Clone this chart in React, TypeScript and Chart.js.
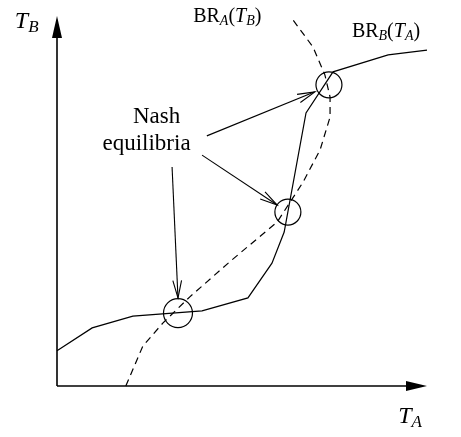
import React, { useEffect, useRef } from "react";
import { Chart, registerables } from "chart.js";

Chart.register(...registerables);

// Best response of player B to T_A (solid)
const brBX = [0, 9.5, 20.5, 39.2, 51.6, 58.1, 61.4, 67.3, 74.6, 89.5, 100];
const brBY = [9.5, 15.7, 18.9, 20.3, 23.8, 33.2, 41.6, 73.8, 84.9, 89.5, 90.8];
// Best response of player A to T_B (dashed)
const brAX = [18.6, 23.2, 28.6, 35.9, 47.3, 59.5, 66.5, 71.1, 73.8, 73.8, 72.4, 69.2, 63.8];
const brAY = [0, 10.8, 17.0, 24.1, 34.1, 44.3, 55.1, 63.8, 72.7, 78.1, 84.1, 91.6, 98.9];
// Nash equilibria (intersections)
const eqX = [32.7, 62.4, 73.5];
const eqY = [19.7, 47.0, 81.4];
// Annotation arrows from the "Nash equilibria" label to each equilibrium
const arrowFromX = [40.5, 39.2, 31.1];
const arrowFromY = [67.6, 62.4, 59.2];
const arrowToX = [69.7, 59.5, 32.7];
const arrowToY = [79.5, 48.9, 23.8];
// Axis extents
const axisMax = 100;

type Seg = { t: string; it?: boolean; sub?: boolean };

const FONT = '"Liberation Serif", "Times New Roman", serif';

function drawRich(
  ctx: CanvasRenderingContext2D,
  segs: Seg[],
  x: number,
  y: number,
  size: number,
  align: "left" | "center"
) {
  const subSize = Math.round(size * 0.72);
  const fontFor = (s: Seg) =>
    `${s.it ? "italic " : ""}${s.sub ? subSize : size}px ${FONT}`;
  const widths = segs.map((s) => {
    ctx.font = fontFor(s);
    return ctx.measureText(s.t).width;
  });
  const total = widths.reduce((a, b) => a + b, 0);
  let cx = align === "center" ? x - total / 2 : x;
  ctx.textAlign = "left";
  ctx.textBaseline = "alphabetic";
  segs.forEach((s, i) => {
    ctx.font = fontFor(s);
    ctx.fillText(s.t, cx, s.sub ? y + size * 0.17 : y);
    cx += widths[i];
  });
}

const annotationPlugin = {
  id: "annotations",
  afterDatasetsDraw(chart: any) {
    const { ctx, scales } = chart;
    const X = (v: number) => scales.x.getPixelForValue(v);
    const Y = (v: number) => scales.y.getPixelForValue(v);
    ctx.save();
    ctx.fillStyle = "#000";
    ctx.strokeStyle = "#000";

    // filled arrowheads on axes
    const filledHead = (tx: number, ty: number, ang: number, len: number, hw: number) => {
      const bx = tx - Math.cos(ang) * len;
      const by = ty - Math.sin(ang) * len;
      const nx = -Math.sin(ang);
      const ny = Math.cos(ang);
      ctx.beginPath();
      ctx.moveTo(tx, ty);
      ctx.lineTo(bx + nx * hw, by + ny * hw);
      ctx.lineTo(bx - nx * hw, by - ny * hw);
      ctx.closePath();
      ctx.fill();
    };
    filledHead(X(axisMax), Y(0), 0, 21, 5);
    filledHead(X(0), Y(axisMax), -Math.PI / 2, 22, 5);

    // open arrowheads on annotation arrows
    ctx.lineWidth = 1.1;
    for (let i = 0; i < arrowToX.length; i++) {
      const fx = X(arrowFromX[i]);
      const fy = Y(arrowFromY[i]);
      const tx = X(arrowToX[i]);
      const ty = Y(arrowToY[i]);
      const ang = Math.atan2(ty - fy, tx - fx);
      const len = 18;
      const spread = (14 * Math.PI) / 180;
      ctx.beginPath();
      ctx.moveTo(tx - Math.cos(ang - spread) * len, ty - Math.sin(ang - spread) * len);
      ctx.lineTo(tx, ty);
      ctx.lineTo(tx - Math.cos(ang + spread) * len, ty - Math.sin(ang + spread) * len);
      ctx.stroke();
    }

    // text labels
    drawRich(ctx, [{ t: "T", it: true }, { t: "B", it: true, sub: true }], X(-11.4), Y(96.8), 24, "left");
    drawRich(ctx, [{ t: "T", it: true }, { t: "A", it: true, sub: true }], X(92.2), Y(-10.0), 24, "left");
    drawRich(
      ctx,
      [
        { t: "BR" },
        { t: "A", it: true, sub: true },
        { t: "(" },
        { t: "T", it: true },
        { t: "B", it: true, sub: true },
        { t: ")" },
      ],
      X(36.8),
      Y(98.4),
      20,
      "left"
    );
    drawRich(
      ctx,
      [
        { t: "BR" },
        { t: "B", it: true, sub: true },
        { t: "(" },
        { t: "T", it: true },
        { t: "A", it: true, sub: true },
        { t: ")" },
      ],
      X(79.7),
      Y(94.3),
      20,
      "left"
    );
    drawRich(ctx, [{ t: "Nash" }], X(26.9), Y(71.1), 23, "center");
    drawRich(ctx, [{ t: "equilibria" }], X(24.2), Y(63.8), 23, "center");
    ctx.restore();
  },
};

export default function App() {
  const ref = useRef<HTMLCanvasElement | null>(null);

  useEffect(() => {
    if (!ref.current) return;
    const pts = (xs: number[], ys: number[]) => xs.map((x, i) => ({ x, y: ys[i] }));
    const line = (data: any[], extra: any = {}) => ({
      data,
      showLine: true,
      borderColor: "#000",
      borderWidth: 1.2,
      pointRadius: 0,
      pointHoverRadius: 0,
      fill: false,
      tension: 0,
      ...extra,
    });
    const arrows = arrowToX.map((_, i) =>
      line(
        [
          { x: arrowFromX[i], y: arrowFromY[i] },
          { x: arrowToX[i], y: arrowToY[i] },
        ],
        { borderWidth: 1.1 }
      )
    );
    const chart = new Chart(ref.current, {
      type: "scatter",
      data: {
        datasets: [
          line([{ x: 0, y: 0 }, { x: axisMax - 4, y: 0 }], { borderWidth: 1.6 }),
          line([{ x: 0, y: 0 }, { x: 0, y: axisMax - 4 }], { borderWidth: 1.6 }),
          line(pts(brBX, brBY)),
          line(pts(brAX, brAY), { borderDash: [7, 5] }),
          ...arrows,
          {
            data: pts(eqX, eqY),
            showLine: false,
            pointStyle: "circle",
            pointRadius: [14.5, 13, 13],
            pointHoverRadius: [14.5, 13, 13],
            pointBorderWidth: 1.2,
            pointBorderColor: "#000",
            pointBackgroundColor: "rgba(0,0,0,0)",
          },
        ],
      },
      options: {
        animation: false,
        responsive: false,
        devicePixelRatio: 1,
        layout: { padding: 0, autoPadding: false },
        events: [],
        plugins: { legend: { display: false }, tooltip: { enabled: false } },
        scales: {
          x: { type: "linear", display: false, min: -57 / 3.7, max: 404 / 3.7 },
          y: { type: "linear", display: false, min: -51 / 3.7, max: 386 / 3.7 },
        },
      },
      plugins: [annotationPlugin],
    });
    return () => chart.destroy();
  }, []);

  return (
    <div style={{ position: "fixed", left: 0, top: 0, width: 461, height: 437, background: "#fff" }}>
      <canvas ref={ref} width={461} height={437} style={{ width: 461, height: 437 }} />
    </div>
  );
}
